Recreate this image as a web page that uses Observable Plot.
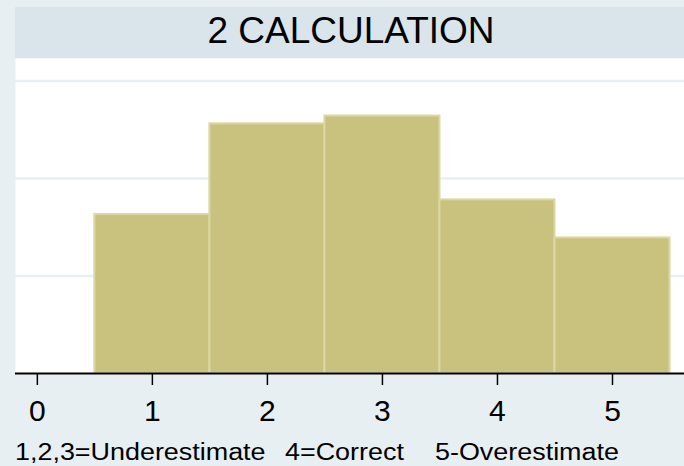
<!DOCTYPE html>
<html>
<head>
<meta charset="utf-8">
<script src="https://cdn.jsdelivr.net/npm/d3@7"></script>
<script src="https://cdn.jsdelivr.net/npm/@observablehq/plot@0.6"></script>
<style>
  html, body { margin: 0; padding: 0; }
  body { width: 684px; height: 466px; overflow: hidden; background: #e8eff2; position: relative;
         font-family: "Liberation Sans", Arial, sans-serif; }
  #strip { position: absolute; top: 7px; left: 15px; width: 694px; height: 51px; background: #d9e5eb; }
  #title { position: absolute; top: 12px; left: 15px; width: 672px; font-size: 37px; line-height: 37px;
           text-align: center; color: #000; white-space: nowrap; }
  #chart { position: absolute; top: 58px; left: 0; }
  .cap { position: absolute; top: 441px; font-size: 23px; line-height: 23px; color: #000; white-space: pre;
         transform: scaleX(1.17); transform-origin: left top; }
</style>
</head>
<body>
<div id="strip"></div>
<div id="title">2 CALCULATION</div>
<div id="chart"></div>
<span class="cap" style="left:15px">1,2,3=Underestimate</span>
<span class="cap" style="left:285px">4=Correct</span>
<span class="cap" style="left:435px">5-Overestimate</span>
<script>
const bins = [1, 2, 3, 4, 5];
const density = [0.163, 0.256, 0.264, 0.178, 0.139];
const xTicks = [0, 1, 2, 3, 4, 5];
const gridValues = [0.1, 0.2, 0.3];

const data = bins.map((b, i) => ({x1: b - 0.5, x2: b + 0.5, y: density[i]}));

const chart = Plot.plot({
  width: 684,
  height: 372,
  marginLeft: 15,
  marginRight: 0,
  marginTop: 0,
  marginBottom: 57,
  style: "background: transparent; font-family: 'Liberation Sans', Arial, sans-serif; overflow: visible;",
  x: {type: "linear", domain: [-0.19, 5.626]},
  y: {domain: [0, 0.323], axis: null},
  marks: [
    Plot.frame({fill: "white", stroke: null}),
    Plot.gridY(gridValues, {stroke: "#e8eff2", strokeWidth: 2.5, strokeOpacity: 1}),
    Plot.rectY(data, {x1: "x1", x2: "x2", y: "y", fill: "#c9c27f", stroke: "#dbd6a2", strokeWidth: 2, inset: 0}),
    Plot.ruleY([0], {stroke: "#000", strokeWidth: 2}),
    Plot.axisX(xTicks, {tickSize: 12, tickPadding: 14, fontSize: 30, tickFormat: d => String(d), stroke: "#000", strokeWidth: 1.5, fill: "#000", label: null})
  ]
});
document.getElementById("chart").appendChild(chart);
</script>
</body>
</html>
